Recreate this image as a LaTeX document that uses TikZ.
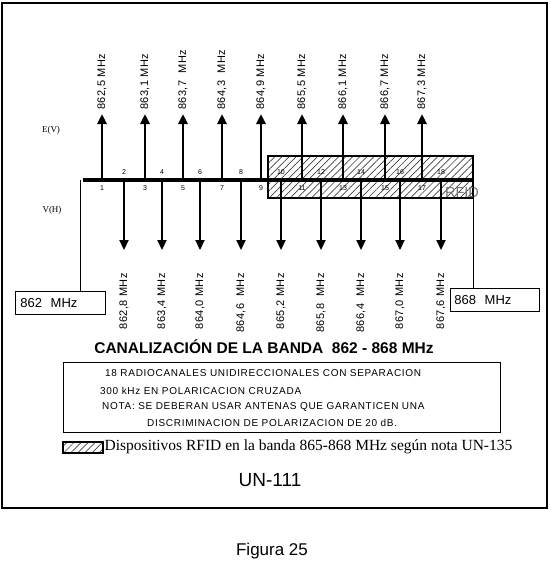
\documentclass[tikz,border=0pt]{standalone}
\usepackage{fontspec}
\setmainfont{Liberation Serif}
\setsansfont{Liberation Sans}
\newfontfamily\arial{Liberation Sans}
\newfontfamily\arialsp{Liberation Sans}[LetterSpace=4]
\newfontfamily\arialnota{Liberation Sans}[LetterSpace=7]
\usetikzlibrary{arrows.meta,patterns.meta}
\begin{document}
\begin{tikzpicture}[x=1pt,y=-1pt,
  hatch/.style={pattern={Lines[angle=45,distance=5pt,line width=0.7pt]},pattern color=black!75},
  axisline/.style={line width=4pt},
  uparrow/.style={line width=2.6pt,-{Triangle[width=9pt,length=10pt]}},
  downarrow/.style={line width=2.2pt,-{Triangle[width=9pt,length=10pt]}},
  freq/.style={rotate=90,inner sep=0pt,font=\arialsp\fontsize{11}{13}\selectfont},
  chnum/.style={inner sep=0pt,font=\arial\fontsize{7}{8}\selectfont},
  leader/.style={line width=0.8pt},
  fbox/.style={draw,line width=0.8pt,inner xsep=5pt,inner ysep=0pt,minimum height=23pt,align=left,font=\arial\fontsize{13}{15}\selectfont},
  pol/.style={inner sep=0pt,font=\fontsize{9}{10}\selectfont},
  notaline/.style={inner sep=0pt,anchor=west,font=\arialnota\fontsize{10}{12}\selectfont}]
\useasboundingbox (0,0) rectangle (550,566);
\draw[line width=2.5pt] (2,3) rectangle (547,508);
% RFID band box
\node[hatch,draw,line width=1.5pt,minimum width=205pt,minimum height=42pt,inner sep=0pt] (rfid) at (370.5,177) {};
% axis
\coordinate (a0) at (83,180);
\coordinate (a1) at (473,180);
\draw[axisline] (a0) -- (a1);
% up channels (odd)
\foreach \n/\x/\f in {1/102/{862,5 MHz},3/145/{863,1 MHz},5/183/{863,7\ \ MHz},7/222/{864,3\ \ MHz},9/261/{864,9 MHz},11/302/{865,5 MHz},13/343/{866,1 MHz},15/385/{866,7 MHz},17/422/{867,3 MHz}}{
  \coordinate (c\n) at (\x,180);
  \coordinate (t\n) at (\x,114);
  \draw[uparrow] (c\n) -- (t\n);
  \node[freq,anchor=west] (f\n) at (\x,110) {\f};
  \node[chnum] (n\n) at (\x,188) {\n};
}
% down channels (even)
\foreach \n/\x/\f in {2/124/{862,8 MHz},4/162/{863,4 MHz},6/200/{864,0 MHz},8/241/{864,6\ \ MHz},10/281/{865,2 MHz},12/321/{865,8\ \ MHz},14/361/{866,4\ \ MHz},16/400/{867,0 MHz},18/441/{867,6 MHz}}{
  \coordinate (c\n) at (\x,180);
  \coordinate (t\n) at (\x,250);
  \draw[downarrow] (c\n) -- (t\n);
  \node[freq,anchor=east] (f\n) at (\x,273) {\f};
  \node[chnum] (n\n) at (\x,172) {\n};
}
\node[inner sep=0pt,font=\arial\fontsize{14.5}{16}\selectfont,text=black!55] (rfidt) at (462,193) {RFID};
% polarisation labels
\node[pol] (ev) at (51,130) {E(V)};
\node[pol] (vh) at (52,210) {V(H)};
% band edges
\node[fbox,text width=80pt,anchor=north west] (b862) at (15,291) {862\ \ MHz};
\node[fbox,text width=81pt,inner xsep=4pt,anchor=north west] (b868) at (450,288) {868\ \ MHz};
\coordinate (l862) at (80,180);
\coordinate (l868) at (473,180);
\draw[leader] (l862) -- (l862 |- b862.north);
\draw[leader] (l868) -- (l868 |- b868.north);
% title
\node[inner sep=0pt,font=\arial\bfseries\fontsize{15.5}{18}\selectfont] (title) at (264,347) {CANALIZACIÓN DE LA BANDA\ \ 862 - 868 MHz};
% note box
\node[draw,line width=1pt,minimum width=437pt,minimum height=70pt,inner sep=0pt,anchor=north west] (nota) at (63,362) {};
\node[notaline] (nl1) at (105,373) {18 RADIOCANALES UNIDIRECCIONALES CON SEPARACION};
\node[notaline] (nl2) at (100,391) {300 kHz EN POLARICACION CRUZADA};
\node[notaline] (nl3) at (102,407) {NOTA: SE DEBERAN USAR ANTENAS QUE GARANTICEN UNA};
\node[notaline] (nl4) at (147,423) {DISCRIMINACION DE POLARIZACION DE 20 dB.};
% legend
\node[hatch,draw,line width=1.5pt,minimum width=40pt,minimum height=11pt,inner sep=0pt,anchor=north west] (leg) at (62,441) {};
\node[anchor=west,inner sep=1pt,font=\fontsize{15.5}{18}\selectfont] (legt) at (leg.east) {Dispositivos RFID en la banda 865-868 MHz según nota UN-135};
% bottom texts
\node[inner sep=0pt,font=\arial\fontsize{19}{22}\selectfont] (un) at (270,480) {UN-111};
\node[inner sep=0pt,font=\arial\fontsize{17}{20}\selectfont] (fig) at (272,551) {Figura 25};
\end{tikzpicture}
\end{document}
